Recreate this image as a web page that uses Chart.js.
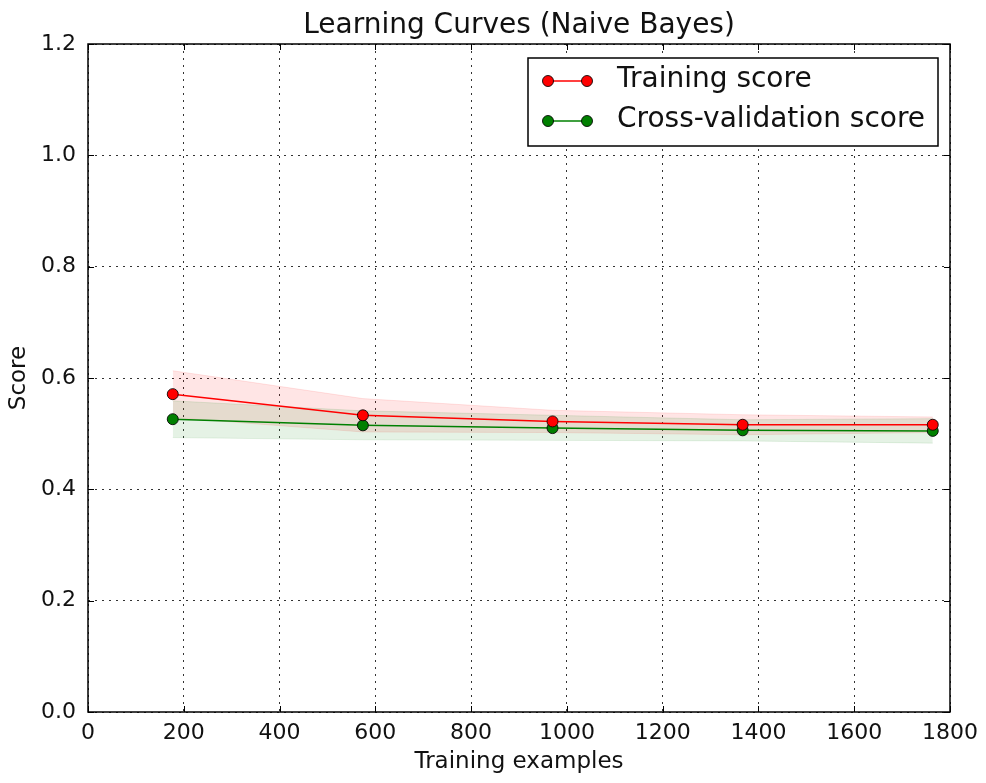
<!DOCTYPE html>
<html>
<head>
<meta charset="utf-8">
<script src="https://cdn.jsdelivr.net/npm/chart.js@4"></script>
<style>
  html, body { margin: 0; padding: 0; background: #fff; }
  #wrap { width: 986px; height: 783px; }
</style>
</head>
<body>
<div id="wrap"><canvas id="myChart" width="986" height="783"></canvas></div>
<script>
// training set sizes (x) and scores
const trainSizes = [177, 574, 970, 1367, 1764];
const trainScore = [0.571, 0.533, 0.522, 0.516, 0.516];
const trainUpper = [0.613, 0.563, 0.542, 0.534, 0.530];
const trainLower = [0.529, 0.503, 0.502, 0.498, 0.502];
const cvScore = [0.526, 0.515, 0.510, 0.506, 0.505];
const cvUpper = [0.559, 0.541, 0.533, 0.525, 0.527];
const cvLower = [0.493, 0.489, 0.488, 0.487, 0.483];
const seriesNames = ['Training score', 'Cross-validation score'];
const seriesColors = ['#ff0000', '#008000'];

const FONT = 'DejaVu Sans';

const toPoints = (arr) => arr.map((v, i) => ({ x: trainSizes[i], y: v }));

const lineSet = (label, vals, color) => ({
    label,
    data: toPoints(vals),
    borderColor: color,
    backgroundColor: color,
    borderWidth: 1.5,
    pointRadius: 5.5,
    pointBorderColor: 'rgba(0,0,0,0.85)',
    pointBorderWidth: 1,
    pointBackgroundColor: color,
    fill: false,
    tension: 0
});

const bandSet = (vals, rgb, fillTo) => ({
    label: '',
    data: toPoints(vals),
    borderColor: `rgba(${rgb},0.1)`,
    backgroundColor: `rgba(${rgb},0.1)`,
    borderWidth: 1,
    pointRadius: 0,
    fill: fillTo,
    tension: 0
});

// frame, inward ticks and legend like matplotlib
const framePlugin = {
    id: 'frame',
    afterDraw(chart) {
        const { ctx, chartArea: a, scales } = chart;
        ctx.save();
        ctx.strokeStyle = '#000';
        ctx.lineWidth = 1;
        const tl = 6;
        ctx.beginPath();
        scales.x.ticks.forEach((t) => {
            const px = Math.round(scales.x.getPixelForValue(t.value)) + 0.5;
            ctx.moveTo(px, a.bottom); ctx.lineTo(px, a.bottom - tl);
            ctx.moveTo(px, a.top); ctx.lineTo(px, a.top + tl);
        });
        scales.y.ticks.forEach((t) => {
            const py = Math.round(scales.y.getPixelForValue(t.value)) + 0.5;
            ctx.moveTo(a.left, py); ctx.lineTo(a.left + tl, py);
            ctx.moveTo(a.right, py); ctx.lineTo(a.right - tl, py);
        });
        ctx.stroke();
        ctx.lineWidth = 1.5;
        ctx.strokeRect(a.left, a.top, a.right - a.left, a.bottom - a.top);

        // legend
        const bx = 528, by = 58, bw = 410, bh = 88;
        ctx.fillStyle = '#fff';
        ctx.fillRect(bx, by, bw, bh);
        ctx.lineWidth = 1.5;
        ctx.strokeStyle = '#000';
        ctx.strokeRect(bx, by, bw, bh);
        ctx.font = `28px "${FONT}"`;
        ctx.textBaseline = 'middle';
        seriesNames.forEach((name, i) => {
            const y = 81 + i * 40;
            ctx.strokeStyle = seriesColors[i];
            ctx.lineWidth = 1.5;
            ctx.beginPath();
            ctx.moveTo(548, y); ctx.lineTo(587, y);
            ctx.stroke();
            [548, 587].forEach((x) => {
                ctx.beginPath();
                ctx.arc(x, y, 5.5, 0, Math.PI * 2);
                ctx.fillStyle = seriesColors[i];
                ctx.fill();
                ctx.strokeStyle = 'rgba(0,0,0,0.85)';
                ctx.lineWidth = 1;
                ctx.stroke();
            });
            ctx.fillStyle = '#111';
            ctx.textAlign = 'left';
            ctx.fillText(name, 617, y - 1);
        });
        ctx.restore();
    }
};

const data = {
    datasets: [
        lineSet(seriesNames[0], trainScore, seriesColors[0]),
        lineSet(seriesNames[1], cvScore, seriesColors[1]),
        bandSet(cvUpper, '0,128,0', '+1'),
        bandSet(cvLower, '0,128,0', false),
        bandSet(trainUpper, '255,0,0', '+1'),
        bandSet(trainLower, '255,0,0', false)
    ]
};

const conf = {
    type: 'line',
    data,
    options: {
        responsive: false,
        animation: false,
        layout: { padding: { left: 0, right: 35, top: 0, bottom: 0 } },
        plugins: {
            legend: { display: false },
            tooltip: { enabled: false },
            title: {
                display: true,
                fullSize: false,
                text: 'Learning Curves (Naive Bayes)',
                color: '#111',
                font: { family: FONT, size: 28, weight: 'normal' },
                padding: { top: 8.5, bottom: 1.9 }
            }
        },
        scales: {
            x: {
                type: 'linear',
                min: 0,
                max: 1800,
                afterFit: (s) => { s.height = 71; },
                ticks: {
                    stepSize: 200,
                    padding: 8,
                    color: '#111',
                    font: { family: FONT, size: 22 },
                    callback: (v) => String(v)
                },
                grid: { color: 'rgba(0,0,0,0.8)', lineWidth: 1, drawTicks: false },
                border: { display: false, dash: [2, 5] },
                title: {
                    display: true,
                    text: 'Training examples',
                    color: '#111',
                    font: { family: FONT, size: 23 },
                    padding: { top: 0, bottom: 7 }
                }
            },
            y: {
                min: 0,
                max: 1.2,
                afterFit: (s) => { s.width = 88; },
                ticks: {
                    stepSize: 0.2,
                    padding: 12,
                    color: '#111',
                    font: { family: FONT, size: 22 },
                    callback: (v) => v.toFixed(1)
                },
                grid: { color: 'rgba(0,0,0,0.8)', lineWidth: 1, drawTicks: false },
                border: { display: false, dash: [2, 5] },
                title: {
                    display: true,
                    text: 'Score',
                    color: '#111',
                    font: { family: FONT, size: 23 },
                    padding: { top: 5, bottom: 0 }
                }
            }
        }
    },
    plugins: [framePlugin]
};

const myChart = new Chart(document.getElementById('myChart'), conf);
</script>
</body>
</html>
